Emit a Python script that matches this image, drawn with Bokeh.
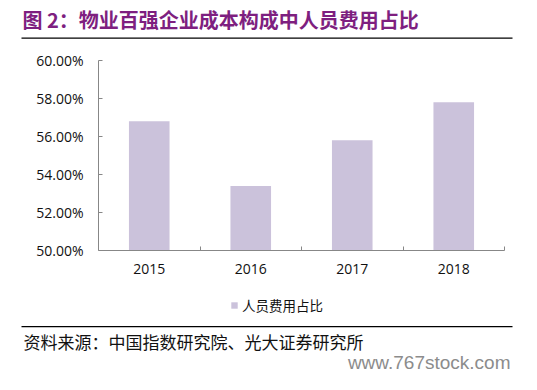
from bokeh.plotting import figure
from bokeh.models import (FixedTicker, NumeralTickFormatter, Range1d, Label,
                          BoxAnnotation, Legend, ColumnDataSource)
from bokeh.embed import file_html
from bokeh.resources import INLINE

# ---- data ----
years = ["2015", "2016", "2017", "2018"]
share = [0.568, 0.534, 0.558, 0.578]
y_ticks = [0.50, 0.52, 0.54, 0.56, 0.58, 0.60]
title_text = "图 2：物业百强企业成本构成中人员费用占比"
series_name = "人员费用占比"
source_text = "资料来源：中国指数研究院、光大证券研究所"
watermark_text = "www.767stock.com"

BAR = "#CBC2DB"
PURPLE = "#7E1F80"
AXIS = "#878787"

# canvas geometry (px)
W, H = 521, 374
PL, PR, PT, PB = 98, 504, 60, 250   # plotting area edges

n = len(years)
ymin, ymax = y_ticks[0], y_ticks[-1]
xs = (PR - PL) / n
ys = (PB - PT) / (ymax - ymin)
x_range = Range1d(-PL / xs, n + (W - PR) / xs)
y_range = Range1d(ymin - (H - PB) / ys, ymax + PT / ys)

x_pos = [i + 0.5 for i in range(n)]
src = ColumnDataSource(dict(x=x_pos, top=share, year=years))

p = figure(width=W, height=H, output_backend="svg", toolbar_location=None,
           x_range=x_range, y_range=y_range,
           min_border=0, min_border_left=0, min_border_right=0,
           min_border_top=0, min_border_bottom=0)
p.outline_line_color = None
p.background_fill_color = "white"
p.border_fill_color = "white"
p.xgrid.visible = False
p.ygrid.visible = False

r = p.vbar(x="x", top="top", bottom=ymin, width=0.4, source=src,
           fill_color=BAR, line_color=None)

# x axis
xa = p.xaxis[0]
xa.fixed_location = ymin
xa.bounds = (0, n)
xa.ticker = FixedTicker(ticks=x_pos, minor_ticks=list(range(1, n + 1)))
xa.major_label_overrides = {x: y for x, y in zip(x_pos, years)}
xa.major_tick_in = 0
xa.major_tick_out = 0
xa.minor_tick_in = 4
xa.minor_tick_out = 0
xa.minor_tick_line_color = AXIS
xa.axis_line_color = AXIS
xa.major_label_text_font = "Open Sans"
xa.major_label_text_font_size = "14px"
xa.major_label_text_color = "#111111"
xa.major_label_standoff = 13

# y axis
ya = p.yaxis[0]
ya.fixed_location = 0
ya.bounds = (ymin, ymax)
ya.ticker = FixedTicker(ticks=y_ticks)
ya.formatter = NumeralTickFormatter(format="0.00%")
ya.major_tick_in = 4
ya.major_tick_out = 0
ya.minor_tick_line_color = None
ya.major_tick_line_color = AXIS
ya.axis_line_color = AXIS
ya.major_label_text_font = "Open Sans"
ya.major_label_text_font_size = "14px"
ya.major_label_text_color = "#111111"
ya.major_label_standoff = 15

# legend
legend = Legend(items=[(series_name, [r])], location=(230, 59),
                padding=0, margin=0, spacing=0, border_line_color=None,
                background_fill_alpha=0, glyph_width=8, glyph_height=8,
                label_height=14, label_standoff=4,
                label_text_font="Noto Sans CJK SC", label_text_font_size="13.5px",
                label_text_color="#111111")
p.add_layout(legend)

# title, rules, source, watermark
p.add_layout(Label(x=22, y=18.5, x_units="canvas", y_units="canvas", text=title_text,
                   text_font="Noto Sans CJK SC", text_font_style="bold",
                   text_font_size="20px", text_color=PURPLE, text_baseline="middle"))
p.add_layout(BoxAnnotation(left=21, right=512, top=37, bottom=38.2,
                           left_units="canvas", right_units="canvas",
                           top_units="canvas", bottom_units="canvas",
                           fill_color="black", fill_alpha=1, line_color=None))
p.add_layout(BoxAnnotation(left=21, right=512, top=325.5, bottom=326.7,
                           left_units="canvas", right_units="canvas",
                           top_units="canvas", bottom_units="canvas",
                           fill_color="black", fill_alpha=1, line_color=None))
p.add_layout(Label(x=23, y=341, x_units="canvas", y_units="canvas", text=source_text,
                   text_font="Noto Sans CJK SC", text_font_size="17px",
                   text_color="#111111", text_baseline="middle"))
p.add_layout(Label(x=510, y=362, x_units="canvas", y_units="canvas", text=watermark_text,
                   text_font="Liberation Sans", text_font_size="19px",
                   text_color="#8C8C8C", text_baseline="middle", text_align="right"))

open("out.html", "w").write(file_html(p, INLINE))
